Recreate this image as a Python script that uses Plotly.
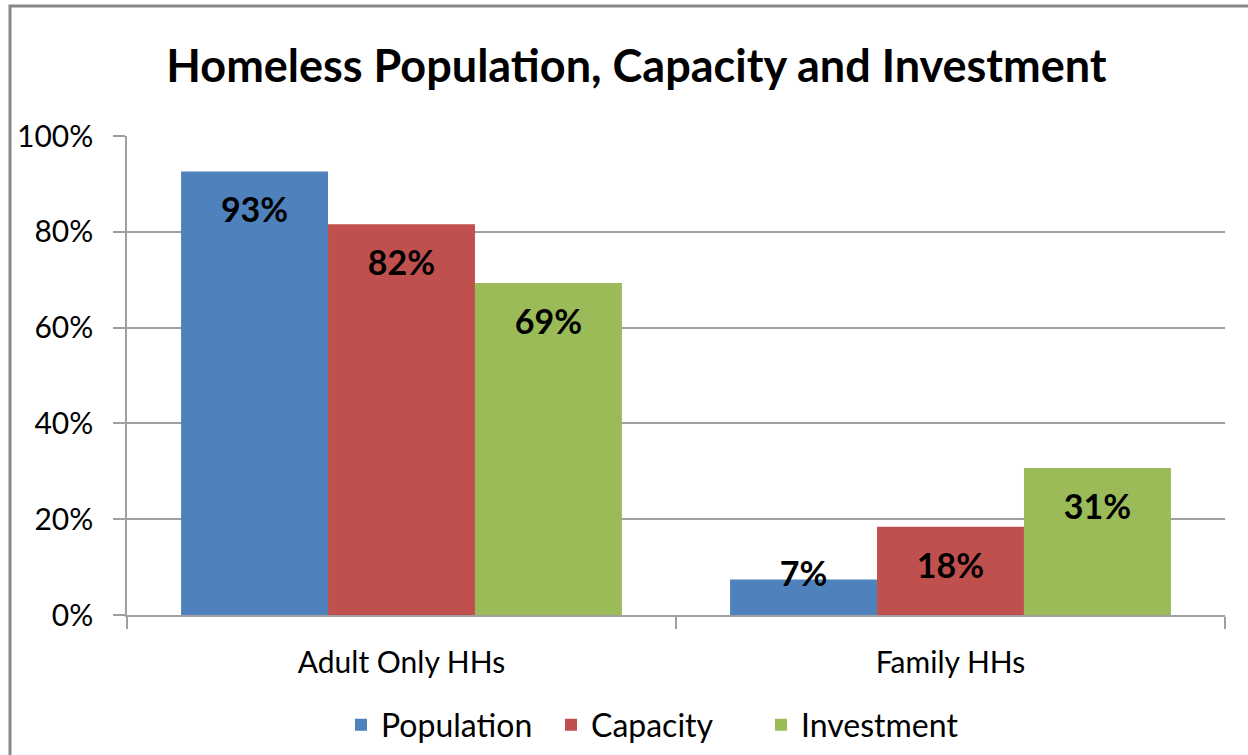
import plotly.graph_objects as go

categories = ["Adult Only HHs", "Family HHs"]
series_names = ["Population", "Capacity", "Investment"]
population = [0.926, 0.074]
capacity = [0.816, 0.184]
investment = [0.693, 0.307]
colors = ["#4F81BD", "#C0504D", "#9BBB59"]
y_ticks = [0, 0.2, 0.4, 0.6, 0.8, 1.0]

W, H = 1248, 755
ML, MR, MT, MB = 127, 23, 136, 140
PW, PH = W - ML - MR, H - MT - MB

fig = go.Figure()
for name, vals, col in zip(series_names, [population, capacity, investment], colors):
    fig.add_trace(go.Bar(
        x=categories, y=vals, name=name, marker=dict(color=col, line=dict(width=0)),
        offsetgroup=name, alignmentgroup="a",
    ))
for name, vals in zip(series_names, [population, capacity, investment]):
    label_y = [v - 0.088 if v > 0.15 else v + 0.004 for v in vals]
    fig.add_trace(go.Scatter(
        x=categories, y=label_y, mode="text", text=[f"{round(v*100)}%" for v in vals],
        textposition="middle center", offsetgroup=name, alignmentgroup="a",
        textfont=dict(family="Lato", size=34, color="black", weight="bold"),
        showlegend=False, hoverinfo="skip",
    ))

fig.update_layout(
    width=W, height=H,
    margin=dict(l=ML, r=MR, t=MT, b=MB, autoexpand=False),
    paper_bgcolor="white", plot_bgcolor="white",
    barmode="group", scattermode="group", bargap=0.197, bargroupgap=0,
    font=dict(family="Lato", color="black"),
    title=dict(text="<b>Homeless Population, Capacity and Investment</b>",
               x=0.51, xanchor="center", y=1 - 66 / H, yanchor="middle",
               font=dict(size=45, family="Lato", color="black")),
    showlegend=True,
    legend=dict(orientation="h", x=(341 - ML) / PW, xanchor="left",
                y=-(725 - MT - PH) / PH, yanchor="middle",
                font=dict(size=32, family="Lato"), traceorder="normal", itemwidth=30,
                entrywidth=165, entrywidthmode="pixels"),
    xaxis=dict(showline=True, linecolor="#a0a0a0", linewidth=1.5, ticks="outside",
               tickson="boundaries", ticklen=12, tickcolor="#a0a0a0", tickwidth=1.5,
               tickfont=dict(size=30, family="Lato"), showgrid=False,
               ticklabelstandoff=20, automargin=False),
    yaxis=dict(range=[0, 1], tickvals=y_ticks, tickformat=".0%", showline=True,
               linecolor="#a0a0a0", linewidth=1.5, ticks="outside", ticklen=12,
               tickcolor="#a0a0a0", tickwidth=1.5, gridcolor="#a0a0a0", gridwidth=1.5,
               tickfont=dict(size=30, family="Lato"), zeroline=False,
               ticklabelstandoff=14, automargin=False),
    shapes=[dict(type="rect", xref="paper", yref="paper",
                 x0=-(ML - 10) / PW, x1=1 + (MR + 20) / PW,
                 y0=-(MB + 20) / PH, y1=1 + (MT - 6) / PH,
                 line=dict(color="#888888", width=3), fillcolor="rgba(0,0,0,0)", layer="below")],
)
fig.write_html("out.html", config={"displayModeBar": False},
               post_script="document.body.style.margin='0px';")
